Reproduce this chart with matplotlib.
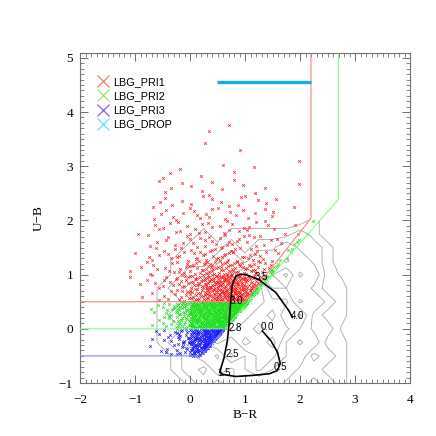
import numpy as np
import matplotlib
matplotlib.use("Agg")
import matplotlib.pyplot as plt
from matplotlib.lines import Line2D
from matplotlib.ticker import MultipleLocator

# ---------------- data ----------------
# selection boundaries (B-R, U-B)
red_line_x = [-2.0, 1.0, 2.2, 2.2]
red_line_y = [0.5, 0.5, 2.04, 5.2]
green_line_x = [-2.0, 0.63, 2.7, 2.7]
green_line_y = [0.0, 0.0, 2.39, 5.2]
blue_line_x = [-2.0, 0.2, 0.63]
blue_line_y = [-0.5, -0.5, 0.0]
drop_line_x = [0.49, 2.2]
drop_line_y = [4.55, 4.55]

# redshift track of a template galaxy
track_br = [1.315, 1.47, 1.59, 1.64, 1.59, 1.44, 1.13, 0.83, 0.59, 0.54, 0.62,
            0.68, 0.71, 0.74, 0.77, 0.83, 0.92, 1.04, 1.25, 1.56, 1.80, 1.86]
track_ub = [-0.04, -0.22, -0.43, -0.64, -0.77, -0.83, -0.86, -0.88, -0.84, -0.80, -0.53,
            -0.22, 0.09, 0.51, 0.82, 0.97, 1.01, 0.99, 0.91, 0.67, 0.33, 0.21]
track_labels = ["0.0", "0.5", "1.5", "2.5", "2.8", "3.0", "3.5", "4.0"]
track_label_br = [1.40, 1.65, 0.62, 0.76, 0.82, 0.84, 1.29, 1.96]
track_label_ub = [0.04, -0.70, -0.81, -0.46, 0.02, 0.51, 0.95, 0.24]

# point counts per 0.25x0.25 cell (rows: increasing U-B, cols: increasing B-R)
red_br_edges = np.arange(-1.25, 2.26, 0.25)
red_ub_edges = [0.5, 0.75, 1.0, 1.25, 1.5, 1.75, 2.0, 2.25, 2.5, 2.75, 3.0, 3.25, 3.5, 3.8]
red_counts = [
    [0, 1, 2, 4, 8, 18, 30, 40, 45, 12, 0, 0, 0, 0],
    [1, 2, 3, 6, 10, 18, 28, 35, 35, 22, 3, 0, 0, 0],
    [1, 2, 3, 4, 7, 11, 14, 16, 14, 11, 6, 0, 0, 0],
    [0, 2, 3, 4, 5, 6, 7, 8, 7, 6, 4, 2, 0, 0],
    [0, 1, 2, 3, 3, 4, 5, 5, 4, 4, 3, 2, 1, 0],
    [0, 1, 2, 3, 3, 3, 3, 4, 3, 3, 2, 2, 1, 0],
    [0, 0, 2, 2, 3, 3, 3, 3, 2, 2, 2, 1, 1, 0],
    [0, 0, 2, 2, 1, 2, 2, 2, 2, 2, 1, 1, 0, 0],
    [0, 0, 1, 2, 1, 2, 1, 1, 2, 1, 1, 0, 1, 0],
    [0, 0, 0, 2, 1, 1, 0, 0, 1, 1, 0, 0, 0, 0],
    [0, 0, 0, 0, 0, 0, 0, 1, 0, 0, 0, 0, 1, 0],
    [0, 0, 0, 0, 0, 0, 1, 0, 1, 0, 0, 0, 0, 0],
    [0, 0, 0, 0, 0, 0, 1, 1, 0, 0, 0, 0, 0, 0],
]
green_br_edges = np.arange(-0.75, 1.51, 0.25)
green_ub_edges = [0.0, 0.25, 0.5]
green_counts = [
    [2, 8, 20, 60, 80, 80, 35, 0, 0],
    [3, 10, 25, 65, 80, 80, 75, 40, 5],
]
green_strip_ub_edges = [0.5, 0.75, 1.0, 1.25, 1.5, 1.75, 2.0]
green_strip_counts = [22, 14, 8, 5, 3, 2]
blue_br_edges = np.arange(-0.75, 0.76, 0.25)
blue_ub_edges = [-0.5, -0.25, 0.0]
blue_counts = [
    [2, 4, 12, 45, 35, 0],
    [3, 6, 15, 50, 70, 25],
]

# density of the comparison galaxy sample (contours)
dens_br = np.arange(-0.75, 3.01, 0.25)
dens_ub = np.arange(-1.0, 2.01, 0.25)
dens = [
    [0, 0, 0, 1, 2, 1, 2, 3, 2, 3, 2, 2, 1, 2, 1, 0],
    [0, 0, 1, 2, 1, 3, 2, 3, 4, 3, 3, 2, 2, 1, 1, 0],
    [0, 0, 1, 2, 3, 2, 4, 3, 4, 4, 3, 3, 1, 2, 1, 0],
    [0, 1, 2, 1, 3, 4, 3, 5, 4, 5, 3, 2, 3, 1, 1, 0],
    [0, 1, 1, 2, 3, 4, 5, 4, 5, 4, 4, 3, 2, 2, 0.5, 0],
    [0, 1, 2, 2, 3, 4, 5, 5, 4, 5, 3, 4, 2, 1, 1, 0],
    [0, 1, 1, 2, 4, 3, 4, 5, 5, 4, 4, 2, 3, 2, 1, 0],
    [0, 1, 2, 1, 3, 3, 4, 4, 5, 3, 3, 3, 2, 1, 1, 0],
    [0, 0, 1, 2, 2, 3, 3, 4, 3, 3, 4, 2, 3, 1, 0.5, 0],
    [0, 0, 1, 1, 1, 2, 3, 2, 3, 3, 2, 3, 2, 1, 0, 0],
    [0, 0, 0, 1, 1, 1, 2, 1, 2, 2, 3, 2, 2, 1, 0, 0],
    [0, 0, 0, 0, 1, 0, 1, 1, 1, 1, 1, 2, 1, 0, 0, 0],
    [0, 0, 0, 0, 0, 0, 0, 0, 0, 0, 0, 0, 1, 0, 0, 0],
]
dens_levels = [0.6, 1.4, 2.2, 3.0, 3.8, 4.6]

legend_labels = ["LBG_PRI1", "LBG_PRI2", "LBG_PRI3", "LBG_DROP"]
legend_colors = ["#ff6060", "#80f050", "#6a50ff", "#50e0ff"]
point_colors = ["#ff2020", "#20e020", "#2020ff"]

# ---------------- helpers ----------------
def halton(i, b):
    f, r = 1.0, 0.0
    while i > 0:
        f /= b
        r += f * (i % b)
        i //= b
    return r

counter = [1]

def fill_cell(x0, x1, y0, y1, n, ok):
    xs, ys = [], []
    tries = 0
    while len(xs) < n and tries < 400:
        k = counter[0]
        counter[0] += 1
        tries += 1
        x = x0 + (x1 - x0) * halton(k, 2)
        y = y0 + (y1 - y0) * halton(k, 3)
        if ok(x, y):
            xs.append(x)
            ys.append(y)
    return xs, ys

def red_x(y):
    return np.interp(y, red_line_y[1:], red_line_x[1:])

def green_x(y):
    return np.interp(y, green_line_y[1:], green_line_x[1:])

def blue_x(y):
    return np.interp(y, blue_line_y[1:], blue_line_x[1:])

def grid_points(br_edges, ub_edges, counts, ok):
    X, Y = [], []
    for j in range(len(ub_edges) - 1):
        for i in range(len(br_edges) - 1):
            n = counts[j][i]
            if n:
                xs, ys = fill_cell(br_edges[i], br_edges[i + 1], ub_edges[j], ub_edges[j + 1], n, ok)
                X += xs
                Y += ys
    return X, Y

rx, ry = grid_points(red_br_edges, red_ub_edges, red_counts, lambda x, y: x <= red_x(y))
gx, gy = grid_points(green_br_edges, green_ub_edges, green_counts, lambda x, y: x <= green_x(y))
for j in range(len(green_strip_counts)):
    y0, y1 = green_strip_ub_edges[j], green_strip_ub_edges[j + 1]
    xs, ys = fill_cell(red_x(y0), green_x(y1), y0, y1, green_strip_counts[j],
                       lambda x, y: red_x(y) < x <= green_x(y))
    gx += xs
    gy += ys
bx, by = grid_points(blue_br_edges, blue_ub_edges, blue_counts, lambda x, y: x <= blue_x(y))

# ---------------- figure ----------------
fig = plt.figure(figsize=(4.36, 4.36), dpi=100)
ax = fig.add_axes([80 / 436, 1 - 383 / 436, 330 / 436, 330 / 436])

ax.contour(dens_br, dens_ub, np.array(dens, float), levels=dens_levels,
           colors="#a8a8a8", linewidths=0.6, zorder=1)

ms, mew = 1.8, 0.55
ax.plot(rx, ry, "x", color=point_colors[0], ms=ms, mew=mew, zorder=2, ls="none")
ax.plot(gx, gy, "x", color=point_colors[1], ms=ms, mew=mew, zorder=2, ls="none")
ax.plot(bx, by, "x", color=point_colors[2], ms=ms, mew=mew, zorder=2, ls="none")

ax.plot(red_line_x, red_line_y, color="#ff8080", lw=0.8, zorder=3)
ax.plot(green_line_x, green_line_y, color="#80ff80", lw=0.8, zorder=3)
ax.plot(blue_line_x, blue_line_y, color="#8080ff", lw=0.8, zorder=3)
ax.plot(drop_line_x, drop_line_y, color="#10b0e8", lw=2.4, zorder=3, solid_capstyle="butt")

ax.plot(track_br, track_ub, color="black", lw=1.2, zorder=4)
for t, x, y in zip(track_labels, track_label_br, track_label_ub):
    ax.text(x, y, t, fontsize=7, ha="center", va="center", family="Liberation Sans", zorder=5)

handles = [Line2D([], [], ls="none", marker="x", color=c, ms=8, mew=0.8) for c in legend_colors]
ax.legend(handles, legend_labels, loc="upper left", bbox_to_anchor=(0.03, 0.95),
          frameon=False, handlelength=1.0, handletextpad=0.45, labelspacing=0.38,
          borderpad=0.2, prop={"family": "Liberation Sans", "size": 7.8})

ax.set_xlim(-2, 4)
ax.set_ylim(-1, 5.09)
ax.xaxis.set_major_locator(MultipleLocator(1))
ax.yaxis.set_major_locator(MultipleLocator(1))
ax.xaxis.set_minor_locator(MultipleLocator(0.1))
ax.yaxis.set_minor_locator(MultipleLocator(0.1))
ax.tick_params(which="both", direction="in", top=True, right=True, color="#707070")
ax.tick_params(which="major", length=6, width=0.7, labelsize=9.5)
ax.tick_params(axis="y", which="major", pad=5)
ax.tick_params(axis="x", which="major", pad=8)
ax.tick_params(which="minor", length=3, width=0.6)
for s in ax.spines.values():
    s.set_color("#707070")
    s.set_linewidth(0.8)
for lab in ax.get_xticklabels() + ax.get_yticklabels():
    lab.set_family("Liberation Serif")
ax.set_xlabel("B\u2212R", family="Liberation Serif", fontsize=9.5, labelpad=2)
ax.set_ylabel("U\u2212B", family="Liberation Serif", fontsize=9.5, labelpad=10)

fig.savefig("out.png", dpi=100)
